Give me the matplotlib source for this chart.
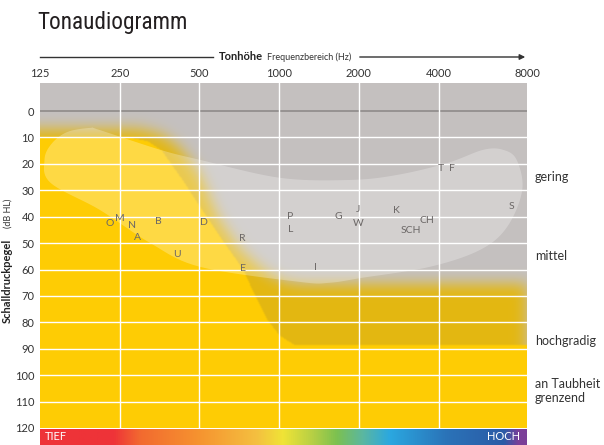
import numpy as np
import matplotlib
matplotlib.use('Agg')
import matplotlib.pyplot as plt
from matplotlib.patches import Polygon
from matplotlib.colors import LinearSegmentedColormap, to_rgb
import matplotlib.transforms as mtransforms
from matplotlib import font_manager as fm

# ---------------- data ----------------
freq_ticks = [125, 250, 500, 1000, 2000, 4000, 8000]
freq_labels = ['125', '250', '500', '1000', '2000', '4000', '8000']
db_ticks = [0, 10, 20, 30, 40, 50, 60, 70, 80, 90, 100, 110, 120]

phonemes = ['O', 'M', 'N', 'A', 'B', 'U', 'D', 'R', 'E', 'P', 'L', 'G', 'I',
            'J', 'W', 'K', 'SCH', 'CH', 'T', 'F', 'S']
phoneme_freq = [230, 250, 278, 291, 351, 412, 521, 723, 732, 1102, 1102, 1671,
                1366, 1991, 1991, 2771, 3138, 3630, 4085, 4500, 7514]
phoneme_db = [42.7, 40.8, 43.5, 48.0, 42.0, 54.4, 42.3, 48.4, 59.7, 40.1, 45.0,
              40.1, 59.4, 37.4, 42.7, 37.8, 45.4, 41.6, 21.9, 21.9, 36.3]

degree_labels = ['gering', 'mittel', 'hochgradig', 'an Taubheit\ngrenzend']
degree_db = [25, 55, 87, 106]

# sharp (bright yellow) threshold and soft (shadow) threshold
thrA_freq = [125, 270, 320, 360, 430, 500, 600, 730, 800, 900, 1000, 1150, 8700]
thrA_db = [10, 10, 11.5, 15, 26, 36, 48, 60, 69, 79, 85, 88.5, 88.5]
thrB_freq = [125, 300, 360, 420, 500, 583, 700, 860, 1000, 1200, 8700]
thrB_db = [7, 7, 9, 14, 24, 40, 52, 60, 64, 65.5, 65.5]

# speech banana outline
banana_freq = [193, 210, 356, 503, 1008, 1852, 2790, 4317, 5896, 7014, 7891, 8283,
               7262, 5735, 3705, 2071, 1558, 1197, 503, 325, 210, 137, 130, 138, 158]
banana_db = [6.4, 7.2, 14.7, 18.5, 25.3, 26.1, 24.2, 19.7, 14.7, 14.7, 18.5, 29.9,
             43.9, 52.6, 59.0, 63.1, 65.0, 64.7, 59.0, 49.9, 37.4, 27.2, 18.5, 12.5, 8.0]

# ---------------- style ----------------
GRAY = np.array(to_rgb('#c4c0bf'))
OCHRE = np.array(to_rgb('#e3b711'))
YELLOW = np.array(to_rgb('#fecc04'))
TXT = '#333333'
FONT = ['Lato', 'DejaVu Sans']
plt.rcParams['font.family'] = FONT

# pick a condensed face for the title if one is installed
title_fp = None
entries = fm.fontManager.ttflist
prefs = ['Roboto Condensed', 'Open Sans Condensed', 'Liberation Sans Narrow',
         'Noto Sans Condensed', 'DejaVu Sans Condensed', 'Open Sans SemiCondensed',
         'Noto Sans SemiCondensed']
for p in prefs:
    cands = [e for e in entries if e.name == p and e.style == 'normal']
    if cands:
        cands.sort(key=lambda e: abs((e.weight if isinstance(e.weight, int) else 400) - 400))
        title_fp = fm.FontProperties(fname=cands[0].fname)
        break
if title_fp is None:
    cands = [e for e in entries if e.style == 'normal' and
             (str(e.stretch) in ('condensed', 'extra-condensed', 'semi-condensed', '75', '62', '87')
              or 'ondensed' in e.name or 'Narrow' in e.name)]
    if cands:
        cands.sort(key=lambda e: abs((e.weight if isinstance(e.weight, int) else 400) - 400))
        title_fp = fm.FontProperties(fname=cands[0].fname)
if title_fp is None:
    title_fp = fm.FontProperties(family=['DejaVu Sans'])

W, H = 604, 445
fig = plt.figure(figsize=(W / 100, H / 100), dpi=100)
ax_l, ax_r, ax_t, ax_b = 40, 527, 83, 428
ax = fig.add_axes([ax_l / W, (H - ax_b) / H, (ax_r - ax_l) / W, (ax_b - ax_t) / H])
x_left, x_right = 125, 125 * 2 ** 6.11
y_top, y_bot = -10.6, 120
ax.set_xscale('log', base=2)
ax.set_xlim(x_left, x_right)
ax.set_ylim(y_bot, y_top)

# ---------------- background raster ----------------
nx, ny = 488, 345
u_edges = np.linspace(0, np.log2(x_right / 125), nx + 1)
f_edges = 125 * 2 ** u_edges
d_edges = np.linspace(y_top, y_bot, ny + 1)
u_c = 0.5 * (u_edges[1:] + u_edges[:-1])
d_c = 0.5 * (d_edges[1:] + d_edges[:-1])


def blur1d(a, sig, axis, pad_lo, pad_hi):
    r = int(np.ceil(3 * sig))
    xk = np.arange(-r, r + 1)
    k = np.exp(-0.5 * (xk / sig) ** 2)
    k /= k.sum()
    a = np.moveaxis(a, axis, 0)
    n = a.shape[0]
    lo = a[:1].repeat(r, 0) if pad_lo == 'edge' else np.zeros((r,) + a.shape[1:])
    hi = a[-1:].repeat(r, 0) if pad_hi == 'edge' else np.zeros((r,) + a.shape[1:])
    p = np.concatenate([lo, a, hi], 0)
    out = np.zeros_like(a, dtype=float)
    for i in range(2 * r + 1):
        out += k[i] * p[i:i + n]
    return np.moveaxis(out, 0, axis)


cA = np.interp(u_c, np.log2(np.array(thrA_freq) / 125), thrA_db)
cB = np.interp(u_c, np.log2(np.array(thrB_freq) / 125), thrB_db)
mA = (d_c[:, None] >= cA[None, :]).astype(float)
mB = (d_c[:, None] >= cB[None, :]).astype(float)
mB = blur1d(mB, 7.0, 0, 'edge', 'edge')
mB = blur1d(mB, 7.0, 1, 'edge', 'zero')
mA = blur1d(mA, 0.7, 0, 'edge', 'edge')
mA = blur1d(mA, 0.7, 1, 'edge', 'edge')

C = GRAY[None, None, :] * (1 - mB[..., None]) + OCHRE[None, None, :] * mB[..., None]
C = C * (1 - mA[..., None]) + YELLOW[None, None, :] * mA[..., None]
ax.pcolormesh(f_edges, d_edges, C, shading='flat', antialiased=False,
              linewidth=0, rasterized=True, zorder=0)

# ---------------- speech banana ----------------
bu = np.log2(np.array(banana_freq) / 125) * 79.7
bd = np.array(banana_db) * 2.645
P = np.column_stack([bu, bd])
n = len(P)
pts = []
for i in range(n):
    p0, p1, p2, p3 = P[i - 1], P[i], P[(i + 1) % n], P[(i + 2) % n]
    for t in np.linspace(0, 1, 10, endpoint=False):
        t2, t3 = t * t, t * t * t
        pts.append(0.5 * ((2 * p1) + (-p0 + p2) * t + (2 * p0 - 5 * p1 + 4 * p2 - p3) * t2
                          + (-p0 + 3 * p1 - 3 * p2 + p3) * t3))
pts = np.array(pts)
poly = np.column_stack([125 * 2 ** (pts[:, 0] / 79.7), pts[:, 1] / 2.645])
ax.add_patch(Polygon(poly, closed=True, fc='white', ec='none', alpha=0.26, zorder=1))

# ---------------- grid ----------------
for v in db_ticks[1:-1]:
    ax.axhline(v, color='white', lw=1.0, zorder=3)
ax.axhline(0, color='#8e8a89', lw=1.2, zorder=3)
for f in freq_ticks[1:-1]:
    ax.axvline(f, color='white', lw=1.0, zorder=3)

# ---------------- letters ----------------
for s, f, d in zip(phonemes, phoneme_freq, phoneme_db):
    ax.text(f, d, s, ha='center', va='center', fontsize=7.5, color='#6b6766', zorder=5)

# ---------------- ticks ----------------
for sp in ax.spines.values():
    sp.set_visible(False)
ax.xaxis.tick_top()
xt = list(freq_ticks[:-1]) + [x_right]
ax.set_xticks(xt)
ax.set_xticklabels(freq_labels)
ax.xaxis.set_minor_locator(matplotlib.ticker.NullLocator())
ax.set_yticks(db_ticks)
ax.set_yticklabels([str(v) for v in db_ticks])
ax.tick_params(axis='both', length=0, labelsize=8, labelcolor=TXT)
ax.tick_params(axis='x', pad=3)
ax.tick_params(axis='y', pad=4)

# degree labels on right
trans = mtransforms.blended_transform_factory(ax.transAxes, ax.transData)
for s, d in zip(degree_labels, degree_db):
    ax.text(1.0164, d, s, transform=trans, ha='left', va='center', fontsize=9,
            color=TXT, linespacing=1.25)

# ---------------- title & axis titles ----------------
title = fig.text(37 / W, (H - 29) / H, 'Tonaudiogramm', fontproperties=title_fp,
                 fontsize=22, color='#231f20', va='baseline', ha='left')
fig.canvas.draw()
wpx = title.get_window_extent().width
if wpx > 150:
    title.set_fontsize(max(15, 22 * 150 / wpx))

yl = (H - 57) / H
fig.add_artist(plt.Line2D([40 / W, 213 / W], [yl, yl], color=TXT, lw=1.0,
                          transform=fig.transFigure))
fig.add_artist(matplotlib.patches.FancyArrowPatch(
    (357 / W, yl), (528 / W, yl), transform=fig.transFigure,
    arrowstyle='-|>', mutation_scale=8, color=TXT, lw=1.0))
fig.text(219 / W, yl, 'Tonhöhe', fontsize=8, fontweight='bold', color='#222222',
         va='center', ha='left')
fig.text(267 / W, yl, 'Frequenzbereich (Hz)', fontsize=6.5, color=TXT,
         va='center', ha='left')

fig.text(10.5 / W, (H - 323) / H, 'Schalldruckpegel', rotation=90,
         rotation_mode='anchor', ha='left', va='baseline', fontsize=8,
         fontweight='bold', color='#222222')
fig.text(10.5 / W, (H - 228) / H, '(dB HL)', rotation=90,
         rotation_mode='anchor', ha='left', va='baseline', fontsize=6.5,
         color=TXT)

# ---------------- bottom colour bar ----------------
bar = fig.add_axes([ax_l / W, 0, (ax_r - ax_l) / W, 16 / H])
stops = [(0.0, '#ee3338'), (0.15, '#ee3338'), (0.205, '#f26a30'), (0.322, '#f6922f'),
         (0.446, '#f4c040'), (0.499, '#f0e436'), (0.561, '#b5cf45'), (0.61, '#7cc150'),
         (0.663, '#5bb7a0'), (0.719, '#2ba8e0'), (0.836, '#2a73b8'), (0.955, '#2b5ba6'),
         (0.985, '#7b3f98'), (1.0, '#7b3f98')]
cmap = LinearSegmentedColormap.from_list('tone', stops)
bar.imshow(np.linspace(0, 1, 512)[None, :], aspect='auto', cmap=cmap,
           extent=[0, 1, 0, 1], interpolation='bilinear')
bar.set_xlim(0, 1)
bar.set_ylim(0, 1)
bar.axis('off')
bar.text(5 / 487, 0.5, 'TIEF', color='white', fontsize=8, va='center', ha='left')
bar.text(480 / 487, 0.5, 'HOCH', color='white', fontsize=8, va='center', ha='right')

fig.savefig('out.png', dpi=100)
